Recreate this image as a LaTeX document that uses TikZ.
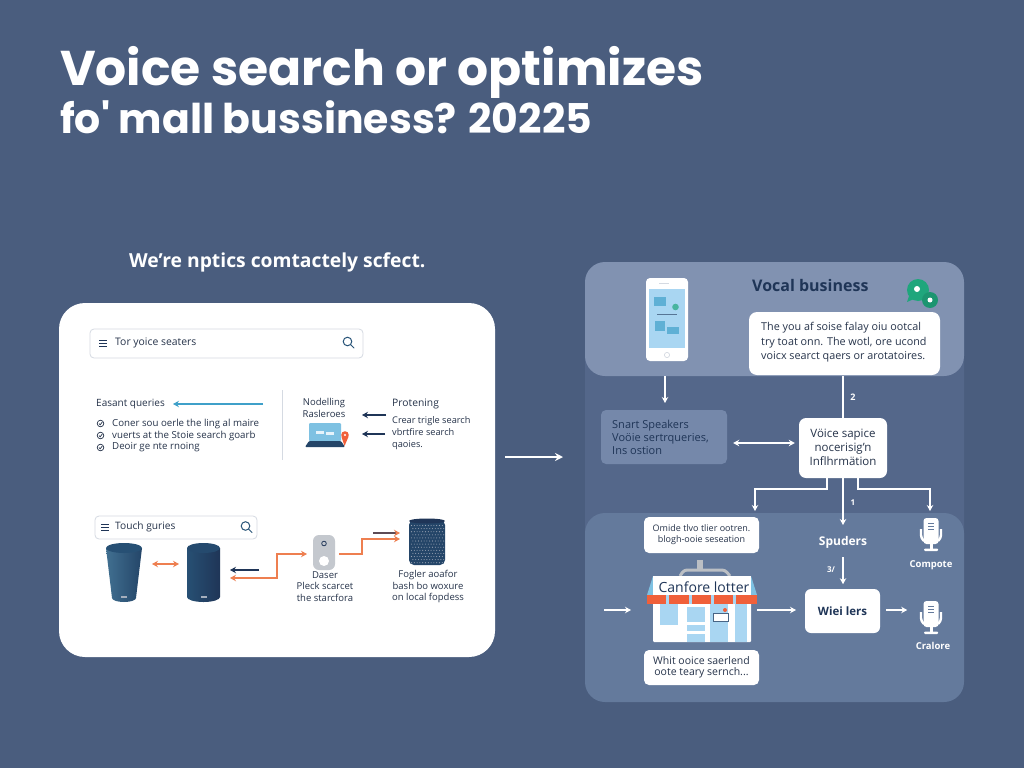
\documentclass[tikz,border=0pt]{standalone}
\usepackage{fontspec}
\setmainfont{Open Sans}
\newfontfamily\titlefont{Poppins}
\usetikzlibrary{arrows.meta,calc}
\definecolor{bgc}{HTML}{4A5D7E}
\definecolor{midc}{HTML}{54678A}
\definecolor{upc}{HTML}{8192B1}
\definecolor{lowc}{HTML}{647A9C}
\definecolor{smartc}{HTML}{7588AA}
\definecolor{navy}{HTML}{1F3557}
\definecolor{ink}{HTML}{26334A}
\definecolor{orangec}{HTML}{EE7F50}
\definecolor{bluec}{HTML}{3FA0C9}
\definecolor{skyc}{HTML}{A9D6F2}
\definecolor{greenc}{HTML}{1FA67C}
\definecolor{redc}{HTML}{F0603A}
\definecolor{linec}{HTML}{D5DAE2}
\tikzset{
  >={Stealth[length=6pt,width=6.5pt]},
  lbl/.style={inner sep=0pt,text=ink,align=left,anchor=west,font=\fontsize{9.5}{12}\selectfont},
  clbl/.style={inner sep=0pt,text=ink,align=center,font=\fontsize{9.5}{11.7}\selectfont},
  wlbl/.style={inner sep=0pt,text=white,align=center,font=\fontsize{10}{12}\selectfont},
  ttl/.style={inner sep=0pt,text=white,anchor=base west,font=\titlefont\bfseries\fontsize{48.8}{52}\selectfont},
  panel/.style={inner sep=0pt,rounded corners=#1},
  whitebox/.style={fill=white,rounded corners=5pt,inner sep=0pt},
  searchbox/.style={fill=white,draw=linec,line width=.8pt,rounded corners=4pt,inner sep=0pt},
  warrow/.style={->,draw=white,line width=1.5pt},
  warrowb/.style={<->,draw=white,line width=1.5pt},
  darrow/.style={->,draw=navy,line width=1.4pt},
  oarrow/.style={draw=orangec,line width=1.5pt},
  mag/.style={draw=#1,line width=1pt},
}
\newcommand{\magicon}[2]{%
  \draw[mag=#2] (#1) circle (4.3pt);
  \draw[mag=#2,line cap=round] ($(#1)+(3.2,3.2)$) -- ($(#1)+(6.5,6.5)$);}
\newcommand{\menuicon}[1]{%
  \foreach \d in {-3,0,3} \draw[navy,line width=.8pt] ($(#1)+(-4,\d)$) -- ($(#1)+(4,\d)$);}
\newcommand{\checkicon}[1]{%
  \draw[ink,line width=.7pt] (#1) circle (3.3pt);
  \draw[ink,line width=.7pt] ($(#1)+(-1.5,0)$) -- ($(#1)+(-.3,1.3)$) -- ($(#1)+(1.8,-1.5)$);}
\newcommand{\micicon}[1]{%
  \begin{scope}[shift={(#1)}]
    \fill[white,rounded corners=3pt] (-7.5,-18) rectangle (7.5,8);
    \draw[white,line width=2.4pt,rounded corners=3pt] (-10,-7) -- (-10,2) -- (-7,5);
    \draw[white,line width=2.4pt,rounded corners=3pt] (10,-7) -- (10,2) -- (7,5);
    \fill[white] (-1.5,8) rectangle (1.5,13);
    \fill[white,rounded corners=1pt] (-7,12.5) rectangle (7,15);
    \foreach \d in {-13,-10,-7} \draw[lowc,line width=.8pt] (-3,\d) -- (3,\d);
  \end{scope}}
\begin{document}
\begin{tikzpicture}[x=1pt,y=-1pt]
\useasboundingbox (0,0) rectangle (1024,768);
\fill[bgc] (0,0) rectangle (1024,768);

% title
\node[ttl] (t1) at (60,85) {Voice search or optimizes};
\node[ttl,font=\titlefont\bfseries\fontsize{41}{44}\selectfont] (t2) at (60,133) {fo' mall bussiness? 20225};
\node[inner sep=0pt,text=white,anchor=base west,font=\bfseries\fontsize{19.3}{22}\selectfont] (sub) at (129,267) {We're nptics comtactely scfect.};

% left card
\fill[white,rounded corners=26pt] (59,303) rectangle (495,657);

% top search box
\node[searchbox,minimum width=273pt,minimum height=29pt] (sb1) at (226.5,343.5) {};
\menuicon{103,343}
\node[lbl,font=\fontsize{10.4}{12}\selectfont] (sb1t) at (115,343) {Tor yoice seaters};
\magicon{347.5,341.5}{navy!70!bluec}

% easant queries
\node[lbl,font=\fontsize{10}{12}\selectfont] (eq) at (96,404) {Easant queries};
\coordinate (eqa) at (263,404);
\coordinate (eqb) at (173,404);
\draw[->,draw=bluec,line width=1.4pt] (eqa) -- (eqb);
\checkicon{100.5,423.5}
\checkicon{100.5,435.5}
\checkicon{100.5,447.5}
\node[lbl,font=\fontsize{9.7}{12}\selectfont] (c1) at (112,424) {Coner sou oerle the ling al maire};
\node[lbl,font=\fontsize{9.7}{12}\selectfont] (c2) at (112,436) {vuerts at the Stoie search goarb};
\node[lbl,font=\fontsize{9.7}{12}\selectfont] (c3) at (112,447) {Deoir ge nte rnoing};

\draw[linec,line width=1pt] (282,390) -- (282,460);

% nodelling
\node[clbl] (nod) at (324,408) {Nodelling\\Rasleroes};
% laptop
\fill[skyc!60!bluec,rounded corners=1pt] (309,423) rectangle (341,441);
\fill[white!70!skyc] (316,431) rectangle (324,434);
\fill[white!70!skyc] (326,432) rectangle (334,435);
\fill[navy!85!bluec,rounded corners=1pt] (309,441) -- (341,441) -- (345,447) -- (305,447) -- cycle;
\fill[redc] (345,435) circle (3.8pt);
\fill[redc] (341.4,436.5) -- (348.6,436.5) -- (344.5,446) -- cycle;
\fill[white] (345,435) circle (1.2pt);
\coordinate (pa1) at (386,415);
\coordinate (pb1) at (362,415);
\coordinate (pa2) at (385,434);
\coordinate (pb2) at (362,434);
\draw[darrow] (pa1) -- (pb1);
\draw[darrow] (pa2) -- (pb2);
\node[lbl,font=\fontsize{10.3}{12}\selectfont] (pro) at (392,403.5) {Protening};
\node[lbl,font=\fontsize{9.2}{12.2}\selectfont] (prot) at (392,433) {Crear trigle search\\vbrtfire search\\qaoies.};

% bottom search box
\node[searchbox,minimum width=162pt,minimum height=23pt] (sb2) at (176,527.5) {};
\menuicon{105,527}
\node[lbl,font=\fontsize{10.2}{12}\selectfont] (sb2t) at (115,527) {Touch guries};
\magicon{245.5,526}{navy!70!bluec}

% speaker 1
\shade[left color=navy!60!bluec!90,right color=navy!85!bluec] (106,548) -- (142,548) -- (136,598) arc (0:180:12 and 4) -- cycle;
\fill[navy!75!bluec] (124,548) ellipse (18 and 5);
\fill[white!60!navy] (121,596) rectangle (127,597.5);
% speaker 2
\shade[left color=navy!75!bluec,right color=navy] (187,548) -- (220,548) -- (220,597) arc (0:180:16.5 and 5) -- cycle;
\fill[navy!80!bluec] (203.5,548) ellipse (16.5 and 5);
\fill[white!60!navy] (201,596) rectangle (207,597.5);

\coordinate (da) at (152,564);
\coordinate (db) at (179,564);
\draw[<->,oarrow] (da) -- (db);
\coordinate (ea) at (259,570);
\coordinate (eb) at (230,570);
\draw[darrow] (ea) -- (eb);
\coordinate (fa) at (230,578);
\coordinate (fb) at (307,554);
\draw[<->,oarrow] (fa) -- (277,578) -- (277,554) -- (fb);

% device
\node[fill=linec!80!gray,rounded corners=6pt,minimum width=22pt,minimum height=35pt,inner sep=0pt] (dev) at (324,552.5) {};
\draw[navy,line width=.8pt] (324,543.5) circle (2.3pt);
\fill[white] (324,561) circle (5pt);
\node[clbl] (devt) at (325,586.5) {Daser\\Pleck scarcet\\the starcfora};

\coordinate (ga) at (339,554);
\coordinate (gb) at (400,539);
\draw[->,oarrow] (ga) -- (362,554) -- (362,539) -- (gb);
\coordinate (ha) at (373,533);
\coordinate (hb) at (400,533);
\draw[-{Stealth[length=6pt,width=6.5pt,color=orangec]},draw=navy!70!orangec,line width=1.4pt] (ha) -- (hb);

% mesh speaker
\fill[navy!85!bluec,rounded corners=5pt] (409,520) rectangle (445,565);
\foreach \r in {0,...,12} \foreach \c in {0,...,11}
  \fill[white!55!navy] ({411.5+\c*2.8+mod(\r,2)*1.4},{525.5+\r*3.1}) circle (.55pt);
\fill[navy] (427,521) ellipse (18 and 2.5);
\node[clbl] (spt) at (428,586.5) {Fogler aoafor\\bash bo woxure\\on local fopdess};

% big arrow
\coordinate (ba) at (505,457);
\coordinate (bb) at (563,457);
\draw[->,draw=white,line width=1.8pt,>={Stealth[length=8pt,width=8pt]}] (ba) -- (bb);

% right panels
\fill[midc,rounded corners=18pt] (585,300) rectangle (964,560);
\fill[lowc,rounded corners=20pt] (585,513) rectangle (964,702);
\fill[upc,rounded corners=20pt] (585,262) rectangle (964,376);

% phone
\fill[white,rounded corners=4pt] (646,278) rectangle (688,361);
\fill[skyc] (649,289) rectangle (685,348);
\fill[linec] (659,283) rectangle (669,284);
\draw[linec,line width=.7pt] (667,355) circle (2.6pt);
\fill[bluec!70!skyc] (654,297) rectangle (666,306);
\fill[greenc!70!skyc] (675.5,307) circle (3.3pt);
\fill[navy!60!skyc] (657,313.5) rectangle (677,314.5);
\fill[bluec!70!skyc] (655,321) rectangle (665,331);
\fill[bluec!70!skyc] (667,327) rectangle (679,334);

\node[inner sep=0pt,anchor=west,text=navy,font=\fontsize{16}{18}\selectfont\bfseries] (vb) at (752,285) {Vocal business};
\fill[greenc] (918,290) circle (11pt);
\fill[greenc] (907,302) -- (914,299) -- (910,293) -- cycle;
\fill[white] (917,289) circle (3pt);
\fill[greenc!90!black] (930,300) circle (8pt);
\fill[white] (930,300) circle (2.5pt);

\node[whitebox,rounded corners=8pt,minimum width=191pt,minimum height=63pt] (vbox) at (844.5,343.5) {};
\node[lbl,font=\fontsize{10.8}{14.4}\selectfont] (vboxt) at (761,342.5) {The you af soise falay oiu ootcal\\try toat onn. The wotl, ore ucond\\voicx searct qaers or arotatoires.};

% flow
\coordinate (pha) at (665,376);
\coordinate (phb) at (665,403);
\draw[warrow] (pha) -- (phb);
\node[panel=5pt,fill=smartc,minimum width=126pt,minimum height=54pt] (smart) at (664,437) {};
\node[lbl,text=navy,font=\fontsize{11}{13}\selectfont] (smartt) at (612,437) {Snart Speakers\\Voöie sertrqueries,\\Ins ostion};
\node[whitebox,rounded corners=7pt,minimum width=88pt,minimum height=60pt] (vsup) at (843,448) {};
\node[clbl,font=\fontsize{11.5}{13.7}\selectfont] (vsupt) at (843,447.5) {Vöice sapice\\nocerisig'n\\Inflhrmätion};
\draw[warrowb] ($(smart.east)+(6,6)$) -- ($(vsup.west)+(-4,-5)$);
\coordinate (tv) at (843,376);
\draw[draw=white,line width=1.5pt] (tv) -- (vsup.north);
\node[wlbl,font=\bfseries\fontsize{9}{10}\selectfont] (two) at (853,397) {2};
\node[wlbl,font=\bfseries\fontsize{8}{10}\selectfont] (one) at (853,503) {1};

\coordinate (vl) at (827,478);
\coordinate (vr) at (858,478);
\coordinate (lb) at (755,511);
\coordinate (rb) at (930,511);
\coordinate (vm) at (843,478);
\coordinate (vmb) at (843,525);
\draw[warrow] (vl) -- (827,489) -- (755,489) -- (lb);
\draw[warrow] (vr) -- (858,489) -- (930,489) -- (rb);
\draw[warrow] (vm) -- (vmb);

\node[wlbl,font=\bfseries\fontsize{12}{13}\selectfont] (spu) at (843,542) {Spuders};
\draw[warrow] ($(spu.south)+(0,9)$) -- ($(spu.south)+(0,36)$);
\node[wlbl,font=\bfseries\fontsize{8}{10}\selectfont] (thr) at (831,570) {3/};

% lower boxes
\node[whitebox,minimum width=115pt,minimum height=36pt] (b1) at (701.5,535) {};
\node[clbl,font=\fontsize{9}{11}\selectfont] (b1t) at (701.5,535) {Omide tlvo tlier ootren.\\blogh-ooie seseation};
\node[whitebox,minimum width=115pt,minimum height=35pt] (b2) at (701.5,667.5) {};
\node[clbl,font=\fontsize{10.5}{11.5}\selectfont] (b2t) at (701.5,667.5) {Whit ooice saerlend\\oote teary sernch...};

% store
\draw[linec!70!gray,line width=3pt,rounded corners=3pt] (680,576) -- (684,570) -- (725,570) -- (730,576);
\fill[linec!70!gray] (697,560) rectangle (703,570);
\fill[skyc!60!bluec] (647,595) -- (653,576) -- (751,576) -- (757,595) -- cycle;
\fill[white] (653,576) rectangle (751,596);
\fill[white,rounded corners=1pt] (653,596) rectangle (751,642);
\node[inner sep=0pt,text=navy,font=\fontsize{14}{15}\selectfont] (store) at (704,587) {Canfore lotter};
\fill[redc] (647,595) rectangle (757,604);
\foreach \x in {666,688.5,711,733} \fill[skyc] (\x,595) rectangle (\x+3,604);
\fill[skyc] (660,604) rectangle (678,625);
\fill[skyc] (687,607) rectangle (705,622);
\fill[skyc] (687,625) rectangle (705,631);
\fill[skyc] (687,634) rectangle (705,642);
\fill[skyc] (710,604) rectangle (728,642);
\fill[skyc] (735,604) rectangle (747,642);
\fill[white,draw=navy!70!skyc,line width=.5pt] (713,613) rectangle (728,621);
\fill[redc] (725,610) circle (2pt);

\coordinate (sa) at (604,610);
\coordinate (sb) at (631,610);
\draw[warrow] (sa) -- (sb);
\coordinate (sc) at (757,610);
\draw[warrow] (sc) -- ($(sc)+(39,0)$);

\node[whitebox,rounded corners=6pt,minimum width=75pt,minimum height=44pt,text=navy,font=\fontsize{11.5}{14}\selectfont\bfseries] (wie) at (842.5,611) {Wiei lers};
\draw[warrow] ($(wie.east)+(6,-1)$) -- ($(wie.east)+(27,-1)$);

\micicon{931,536}
\micicon{931,619}
\node[wlbl,font=\fontsize{9.5}{12}\selectfont\bfseries] (cp) at (931,565) {Compote};
\node[wlbl,font=\fontsize{9.5}{12}\selectfont\bfseries] (cr) at (933,646) {Cralore};
\end{tikzpicture}
\end{document}
